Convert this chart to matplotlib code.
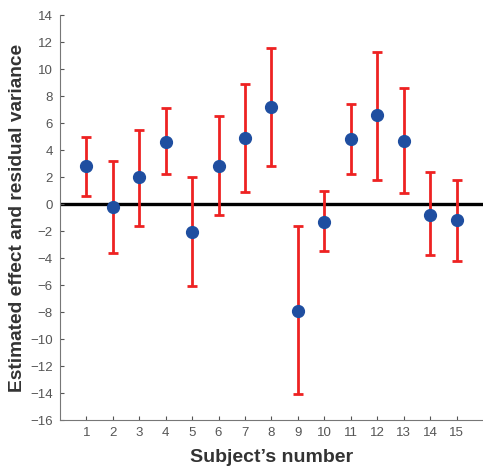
import matplotlib
matplotlib.use("Agg")
import matplotlib.pyplot as plt
import numpy as np

plt.rcParams['font.family'] = ['Liberation Sans', 'DejaVu Sans']

# estimated effect per subject with upper/lower bounds
subjects = np.arange(1, 16)
effect = [2.8, -0.2, 2.0, 4.6, -2.1, 2.8, 4.9, 7.2, -7.9, -1.3, 4.8, 6.6, 4.7, -0.8, -1.2]
upper = [5.0, 3.2, 5.5, 7.1, 2.0, 6.5, 8.9, 11.6, -1.6, 1.0, 7.4, 11.3, 8.6, 2.4, 1.8]
lower = [0.6, -3.6, -1.6, 2.2, -6.1, -0.8, 0.9, 2.8, -14.1, -3.5, 2.2, 1.8, 0.8, -3.8, -4.2]

effect = np.array(effect)
yerr = [effect - np.array(lower), np.array(upper) - effect]

fig = plt.figure(figsize=(4.83, 4.72), dpi=100)
ax = fig.add_axes([0.124, 0.110, 0.876, 0.858])

ax.axhline(0, color='black', lw=2.4, zorder=1)
ax.errorbar(subjects, effect, yerr=yerr, fmt='none', ecolor='#ee2222',
            elinewidth=2.0, capsize=3.5, capthick=2.0, zorder=2)
ax.plot(subjects, effect, 'o', color='#1f4ea0', markersize=8.5, zorder=3)

ax.set_xlim(0, 16)
ax.set_ylim(-16, 14)
ax.set_xticks(subjects)
ax.set_yticks(np.arange(-16, 15, 2))
ax.tick_params(direction='in', length=3, width=0.8, colors='#555555',
               labelsize=9.5, pad=5)
for s in ['top', 'right']:
    ax.spines[s].set_visible(False)
for s in ['left', 'bottom']:
    ax.spines[s].set_color('#777777')
    ax.spines[s].set_linewidth(0.8)

ax.set_xlabel("Subject’s number", fontsize=14, fontweight='bold',
              color='#333333', labelpad=7)
ax.set_ylabel("Estimated effect and residual variance", fontsize=13.8,
              fontweight='bold', color='#333333', labelpad=3)

fig.savefig("out.png", dpi=100)
